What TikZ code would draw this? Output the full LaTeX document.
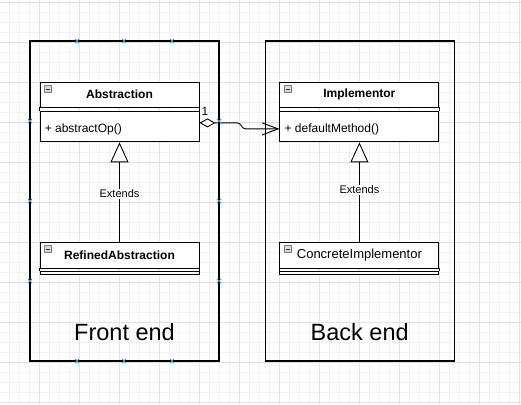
\documentclass[tikz,border=0pt]{standalone}
\usepackage{fontspec}
\setmainfont{Liberation Sans}
\usetikzlibrary{positioning,arrows.meta}
\definecolor{minorgrid}{HTML}{F2F2F2}
\definecolor{majorgrid}{HTML}{E2E2E2}
\definecolor{handleblue}{HTML}{3A8EDB}
\definecolor{iconfill}{HTML}{D8D8D8}

\begin{document}
\begin{tikzpicture}[x=1pt, y=-1pt,
  container/.style={draw, line width=1.2pt, minimum width=189pt, minimum height=320pt, inner sep=0pt},
  umlhead/.style={draw, line width=0.9pt, fill=white, minimum width=159pt, minimum height=25pt, inner sep=0pt, font=\bfseries\fontsize{12}{14}\selectfont},
  umlbody/.style={draw, line width=0.9pt, fill=white, minimum width=159pt, minimum height=30pt, inner sep=0pt},
  umlstub/.style={umlbody, minimum height=3pt},
  opname/.style={inner sep=0pt, anchor=west, font=\fontsize{12}{14}\selectfont},
  endlabel/.style={inner sep=0pt, font=\fontsize{23.5}{28}\selectfont},
  extends/.style={line width=0.9pt, -{Triangle[open, length=20pt, width=18pt, fill=white]}},
  aggregation/.style={line width=0.9pt, {Diamond[open, length=16pt, width=9pt, fill=white]}-{Straight Barb[length=16pt, width=12pt]}},
  edgelabel/.style={fill=white, inner sep=1pt, font=\fontsize{11}{13}\selectfont},
  handle/.style={handleblue, line width=0.8pt}]
\useasboundingbox (0,0) rectangle (521,404);
% background grid
\foreach \x in {9,19,...,519} \draw[minorgrid, line width=0.6pt] (\x,0) -- (\x,404);
\foreach \y in {2,12,...,402} \draw[minorgrid, line width=0.6pt] (0,\y) -- (521,\y);
\foreach \x in {39,79,...,519} \draw[majorgrid, line width=0.6pt] (\x,0) -- (\x,404);
\foreach \y in {2,42,...,402} \draw[majorgrid, line width=0.6pt] (0,\y) -- (521,\y);

% the two ends
\node[container] (front) at (124.5,201) {};
\node[container, right=45pt of front] (back) {};
\node[endlabel] (frontlabel) at ([yshift=30pt]front.south) {Front end};
\node[endlabel] (backlabel) at ([yshift=30pt]back.south) {Back end};

% classes
\node[umlhead] (abs) at (119.5,94.5) {Abstraction};
\node[umlbody, below=4pt of abs] (absbody) {};
\node[opname] (absop) at ([xshift=5pt,yshift=-2.5pt]absbody.west) {+ abstractOp()};
\node[umlhead, right=80pt of abs] (imp) {Implementor};
\node[umlbody, below=4pt of imp] (impbody) {};
\node[opname] (impop) at ([xshift=5pt,yshift=-2.5pt]impbody.west) {+ defaultMethod()};
\node[umlhead, minimum height=26pt] (ref) at (119.5,255) {RefinedAbstraction};
\node[umlstub, below=3pt of ref] (refbody) {};
\node[umlhead, minimum height=26pt, right=80pt of ref, font=\fontsize{13}{15}\selectfont] (con) {ConcreteImplementor};
\node[umlstub, below=3pt of con] (conbody) {};
\foreach \h/\b in {abs/absbody, imp/impbody, ref/refbody, con/conbody} {
  \draw[line width=0.9pt] (\h.south west) -- (\b.north west) (\h.south east) -- (\b.north east);
  \draw[gray, fill=iconfill, line width=0.5pt] ([xshift=5pt,yshift=-4pt]\h.north west) rectangle ++(7,7);
  \draw[black!80, line width=0.7pt] ([xshift=6.5pt,yshift=-7.5pt]\h.north west) -- ++(4,0);
}

% relations
\draw[extends] (ref.north) -- node[edgelabel, pos=0.48] {Extends} (absbody.south);
\draw[extends] (con.north) -- node[edgelabel, pos=0.52] {Extends} (impbody.south);
\coordinate (aggrstart) at ([yshift=4pt]absbody.east);
\coordinate (aggrend) at ([yshift=-2pt]impbody.west);
\draw[aggregation] (aggrstart) -- ++(38,0) to[out=0, in=180] ++(8,6) -- (aggrend);
\node[inner sep=0pt, anchor=base west, font=\fontsize{12}{14}\selectfont] (mult) at ([xshift=2pt,yshift=7pt]aggrstart) {1};

% selection handles of the front end
\foreach \x in {77,124,172} {
  \draw[handle] (\x-2,39) -- (\x+2,43) (\x-2,43) -- (\x+2,39);
  \draw[handle] (\x-2,359) -- (\x+2,363) (\x-2,363) -- (\x+2,359);
}
\foreach \y in {121,201,281} {
  \draw[handle] (28,\y-2) -- (32,\y+2) (28,\y+2) -- (32,\y-2);
  \draw[handle] (217,\y-2) -- (221,\y+2) (217,\y+2) -- (221,\y-2);
}
\end{tikzpicture}
\end{document}
